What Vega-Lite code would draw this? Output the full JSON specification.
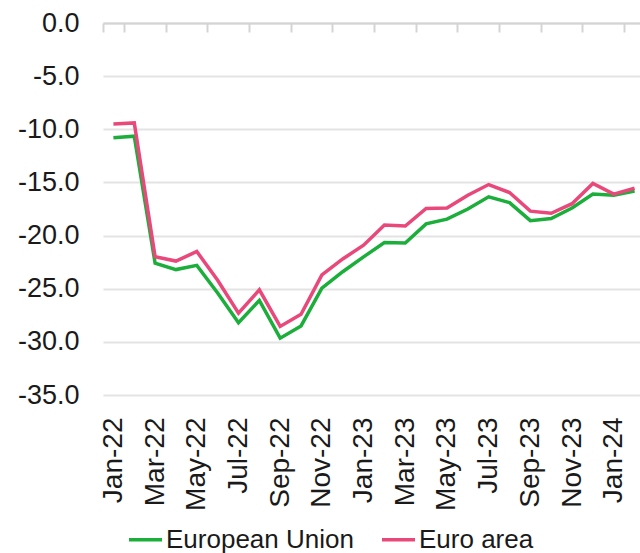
{
  "$schema": "https://vega.github.io/schema/vega-lite/v6.json",
  "autosize": {"type": "none"},
  "padding": {"left": 103, "top": 23, "right": 0, "bottom": 158},
  "width": 537,
  "height": 372,
  "config": {
    "view": {"stroke": null},
    "font": "Liberation Sans"
  },
  "data": {
    "values": [
      {"month": "Jan-22", "series": "European Union", "value": -10.8},
      {"month": "Feb-22", "series": "European Union", "value": -10.65},
      {"month": "Mar-22", "series": "European Union", "value": -22.6},
      {"month": "Apr-22", "series": "European Union", "value": -23.2},
      {"month": "May-22", "series": "European Union", "value": -22.8},
      {"month": "Jun-22", "series": "European Union", "value": -25.4},
      {"month": "Jul-22", "series": "European Union", "value": -28.2},
      {"month": "Aug-22", "series": "European Union", "value": -26.1},
      {"month": "Sep-22", "series": "European Union", "value": -29.65},
      {"month": "Oct-22", "series": "European Union", "value": -28.5},
      {"month": "Nov-22", "series": "European Union", "value": -24.95},
      {"month": "Dec-22", "series": "European Union", "value": -23.4},
      {"month": "Jan-23", "series": "European Union", "value": -22.0},
      {"month": "Feb-23", "series": "European Union", "value": -20.65},
      {"month": "Mar-23", "series": "European Union", "value": -20.7},
      {"month": "Apr-23", "series": "European Union", "value": -18.9},
      {"month": "May-23", "series": "European Union", "value": -18.45},
      {"month": "Jun-23", "series": "European Union", "value": -17.5},
      {"month": "Jul-23", "series": "European Union", "value": -16.35},
      {"month": "Aug-23", "series": "European Union", "value": -16.9},
      {"month": "Sep-23", "series": "European Union", "value": -18.6},
      {"month": "Oct-23", "series": "European Union", "value": -18.4},
      {"month": "Nov-23", "series": "European Union", "value": -17.4},
      {"month": "Dec-23", "series": "European Union", "value": -16.1},
      {"month": "Jan-24", "series": "European Union", "value": -16.2},
      {"month": "Feb-24", "series": "European Union", "value": -15.8},
      {"month": "Jan-22", "series": "Euro area", "value": -9.5},
      {"month": "Feb-22", "series": "Euro area", "value": -9.4},
      {"month": "Mar-22", "series": "Euro area", "value": -22.0},
      {"month": "Apr-22", "series": "Euro area", "value": -22.4},
      {"month": "May-22", "series": "Euro area", "value": -21.5},
      {"month": "Jun-22", "series": "Euro area", "value": -24.2},
      {"month": "Jul-22", "series": "Euro area", "value": -27.3},
      {"month": "Aug-22", "series": "Euro area", "value": -25.1},
      {"month": "Sep-22", "series": "Euro area", "value": -28.55},
      {"month": "Oct-22", "series": "Euro area", "value": -27.4},
      {"month": "Nov-22", "series": "Euro area", "value": -23.7},
      {"month": "Dec-22", "series": "Euro area", "value": -22.2},
      {"month": "Jan-23", "series": "Euro area", "value": -20.9},
      {"month": "Feb-23", "series": "Euro area", "value": -19.0},
      {"month": "Mar-23", "series": "Euro area", "value": -19.1},
      {"month": "Apr-23", "series": "Euro area", "value": -17.45},
      {"month": "May-23", "series": "Euro area", "value": -17.4},
      {"month": "Jun-23", "series": "Euro area", "value": -16.2},
      {"month": "Jul-23", "series": "Euro area", "value": -15.2},
      {"month": "Aug-23", "series": "Euro area", "value": -15.95},
      {"month": "Sep-23", "series": "Euro area", "value": -17.7},
      {"month": "Oct-23", "series": "Euro area", "value": -17.9},
      {"month": "Nov-23", "series": "Euro area", "value": -17.0},
      {"month": "Dec-23", "series": "Euro area", "value": -15.1},
      {"month": "Jan-24", "series": "Euro area", "value": -16.1},
      {"month": "Feb-24", "series": "Euro area", "value": -15.55}
    ]
  },
  "mark": {"type": "line", "strokeWidth": 3.5},
  "encoding": {
    "x": {
      "field": "month",
      "type": "ordinal",
      "sort": null,
      "scale": {"type": "band", "range": [0, 542], "paddingInner": 0, "paddingOuter": 0},
      "axis": {
        "title": null,
        "orient": "bottom",
        "offset": -372,
        "values": ["Jan-22", "Mar-22", "May-22", "Jul-22", "Sep-22", "Nov-22", "Jan-23", "Mar-23", "May-23", "Jul-23", "Sep-23", "Nov-23", "Jan-24"],
        "tickBand": "extent",
        "grid": false,
        "domain": true,
        "domainColor": "#d4d4d4",
        "domainWidth": 2,
        "ticks": true,
        "tickColor": "#d4d4d4",
        "tickWidth": 2,
        "tickSize": 9,
        "labelAngle": -90,
        "labelAlign": "right",
        "labelBaseline": "middle",
        "labelPadding": 385,
        "labelFontSize": 28,
        "labelColor": "#1a1a1a",
        "labelFont": "Liberation Sans"
      }
    },
    "y": {
      "field": "value",
      "type": "quantitative",
      "scale": {"domain": [-35, 0], "nice": false, "zero": false},
      "axis": {
        "title": null,
        "values": [0, -5, -10, -15, -20, -25, -30, -35],
        "format": ".1f",
        "labelExpr": "replace(datum.label, '\u2212', '-')",
        "domain": false,
        "ticks": false,
        "grid": true,
        "gridColor": "#e3e3e3",
        "gridWidth": 2,
        "labelPadding": 24,
        "labelFontSize": 27,
        "labelColor": "#1a1a1a",
        "labelFont": "Liberation Sans"
      }
    },
    "color": {
      "field": "series",
      "type": "nominal",
      "sort": ["European Union", "Euro area"],
      "scale": {"domain": ["European Union", "Euro area"], "range": ["#1bae3b", "#e9487b"]},
      "legend": {
        "title": null,
        "orient": "none",
        "direction": "horizontal",
        "legendX": 24,
        "legendY": 498,
        "padding": 0,
        "symbolType": "stroke",
        "symbolSize": 1089,
        "symbolStrokeWidth": 3.5,
        "labelFontSize": 26,
        "labelFont": "Liberation Sans",
        "labelColor": "#1a1a1a",
        "labelOffset": 2,
        "labelLimit": 0,
        "columnPadding": 21
      }
    }
  }
}
